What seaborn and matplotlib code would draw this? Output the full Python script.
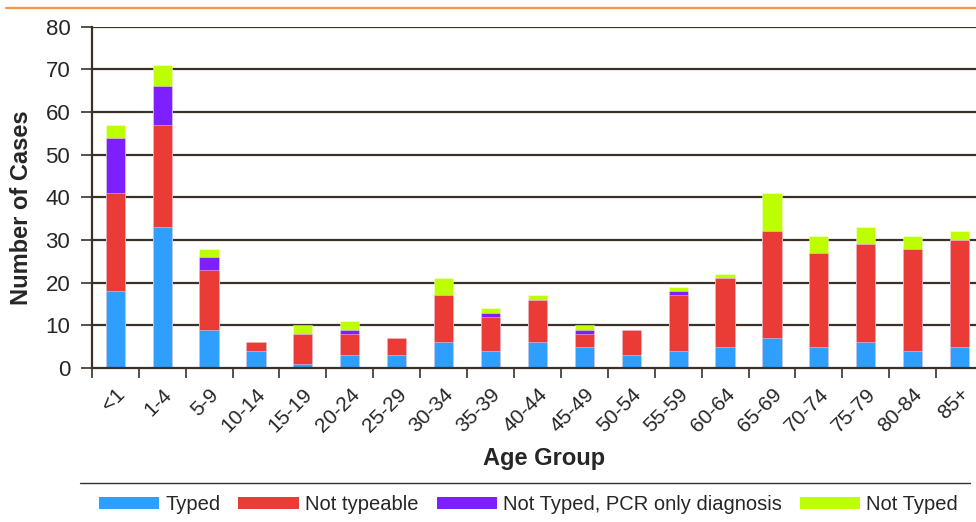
import numpy as np
import pandas as pd
import matplotlib
matplotlib.use("Agg")
import matplotlib.pyplot as plt
import seaborn as sns
from matplotlib.patches import Patch
from matplotlib.lines import Line2D

# Cases by age group, split by typing outcome
age_groups = ["<1", "1-4", "5-9", "10-14", "15-19", "20-24", "25-29", "30-34",
              "35-39", "40-44", "45-49", "50-54", "55-59", "60-64", "65-69",
              "70-74", "75-79", "80-84", "85+"]
typed        = [18, 33, 9, 4, 1, 3, 3, 6, 4, 6, 5, 3, 4, 5, 7, 5, 6, 4, 5]
not_typeable = [23, 24, 14, 2, 7, 5, 4, 11, 8, 10, 3, 6, 13, 16, 25, 22, 23, 24, 25]
pcr_only     = [13, 9, 3, 0, 0, 1, 0, 0, 1, 0, 1, 0, 1, 0, 0, 0, 0, 0, 0]
not_typed    = [3, 5, 2, 0, 2, 2, 0, 4, 1, 1, 1, 0, 1, 1, 9, 4, 4, 3, 2]

series_names = ["Typed", "Not typeable", "Not Typed, PCR only diagnosis", "Not Typed"]
series_colors = ["#2F9FFF", "#EA3B37", "#7E1FFF", "#BDFF00"]

df = pd.DataFrame({
    "Age Group": age_groups,
    "Typed": typed,
    "Not typeable": not_typeable,
    "Not Typed, PCR only diagnosis": pcr_only,
    "Not Typed": not_typed,
})
# cumulative tops for stacking
cum = df[series_names].cumsum(axis=1)

sns.set_theme(style="white")
plt.rcParams["font.family"] = ["Liberation Sans", "DejaVu Sans"]

W, H = 976, 522
fig = plt.figure(figsize=(W / 100, H / 100), dpi=100)
ax = fig.add_axes([91.8 / W, 1 - 368 / H, (W - 91.8) / W, (368 - 26.7) / H])

grid_col = "#3A3229"
ax.set_axisbelow(True)
for y in range(10, 90, 10):
    ax.axhline(y, color=grid_col, lw=1.6, zorder=0)

# draw the stacks from the top segment down so each layer covers the one above
for name, color in zip(series_names[::-1], series_colors[::-1]):
    sns.barplot(x=df["Age Group"], y=cum[name], color=color, saturation=1,
                width=0.41, ax=ax, order=age_groups,
                edgecolor=(1, 1, 1, 0.45), linewidth=0.6, zorder=2)

ax.set_xlim(-0.5, 18.35)
ax.set_ylim(0, 80)
ax.set_yticks(range(0, 90, 10))
ax.tick_params(axis="y", labelsize=16, length=8, width=1.2, color=grid_col,
               direction="out", pad=7.5, left=True)
ax.set_xticks(range(len(age_groups)))
ax.set_xticklabels(age_groups, rotation=45, ha="right", rotation_mode="anchor",
                   fontsize=15)
ax.tick_params(axis="x", which="major", length=0, pad=12)
ax.set_xticks(np.arange(-0.5, 18.5, 1.0), minor=True)
ax.tick_params(axis="x", which="minor", length=7, width=1.2, color=grid_col,
               direction="out", bottom=True)

for s in ["top", "right"]:
    ax.spines[s].set_visible(False)
for s in ["left", "bottom"]:
    ax.spines[s].set_color(grid_col)
    ax.spines[s].set_linewidth(1.6)

ax.set_xlabel("")
ax.set_ylabel("")
fig.text(22 / W, 1 - 208 / H, "Number of Cases", rotation=90, fontsize=17,
         fontweight="bold", ha="center", va="center")
fig.text(544 / W, 1 - 459 / H, "Age Group", fontsize=17, fontweight="bold",
         ha="center", va="center")

# frame lines above the plot and above the legend
fig.add_artist(Line2D([6 / W, 1], [1 - 8 / H, 1 - 8 / H], color="#F79646", lw=1.6))
fig.add_artist(Line2D([80 / W, 970 / W], [1 - 483 / H, 1 - 483 / H], color="#333333", lw=1.0))

handles = [Patch(facecolor=c, edgecolor="none", label=n)
           for n, c in zip(series_names, series_colors)]
fig.legend(handles=handles, loc="center", bbox_to_anchor=(528.5 / W, 1 - 505 / H),
           ncol=4, frameon=False, fontsize=14.5, handlelength=3.0, handleheight=0.55,
           handletextpad=0.3, columnspacing=0.9, borderpad=0, borderaxespad=0)

fig.savefig("out.png", dpi=100)
